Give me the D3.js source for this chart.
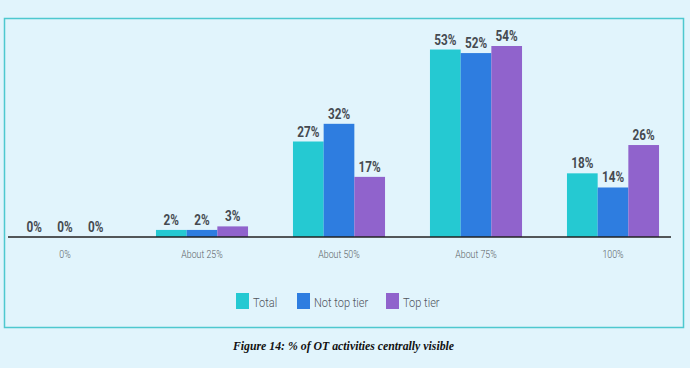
<!DOCTYPE html>
<html>
<head>
<meta charset="utf-8">
<script src="https://cdn.jsdelivr.net/npm/d3@7"></script>
<style>
  html, body { margin: 0; padding: 0; background: #e1f4fc; }
  svg { display: block; }
</style>
</head>
<body>
<div class="playground"></div>
<script>
// chart data
var categories = ["0%", "About 25%", "About 50%", "About 75%", "100%"];
var seriesNames = ["Total", "Not top tier", "Top tier"];
var total      = [0, 2, 27, 53, 18];
var notTopTier = [0, 2, 32, 52, 14];
var topTier    = [0, 3, 17, 54, 26];
var colors     = ["#25c9d2", "#2e7de0", "#9063cc"];

var width  = 690,
    height = 368;

var seriesValues = [total, notTopTier, topTier];

var svg = d3.select(".playground")
            .append("svg")
            .attr("width", width)
            .attr("height", height);

svg.append("rect")
   .attr("width", width)
   .attr("height", height)
   .attr("fill", "#e1f4fc");

// frame round the chart
svg.append("rect")
   .attr("x", 4.5)
   .attr("y", 18.5)
   .attr("width", 679)
   .attr("height", 309)
   .attr("fill", "none")
   .attr("stroke", "#4ec8cf")
   .attr("stroke-width", 1.5);

var baseline = 237;

var x0 = d3.scaleBand()
           .domain(categories)
           .range([-3.5, 681.5])
           .paddingInner(0.328)
           .paddingOuter(0.164);

var x1 = d3.scaleBand()
           .domain(seriesNames)
           .range([0, x0.bandwidth()]);

var y = d3.scaleLinear()
          .domain([0, 54])
          .range([baseline, 46]);

var rows = [];
categories.forEach(function (c, i) {
  seriesNames.forEach(function (s, j) {
    rows.push({ cat: c, series: s, idx: j, value: seriesValues[j][i] });
  });
});

var groups = svg.append("g").attr("class", "bars");

groups.selectAll("rect")
      .data(rows)
      .enter()
      .append("rect")
      .attr("x", function (d) { return x0(d.cat) + x1(d.series); })
      .attr("y", function (d) { return y(d.value); })
      .attr("width", x1.bandwidth())
      .attr("height", function (d) { return baseline - y(d.value); })
      .attr("fill", function (d) { return colors[d.idx]; });

// value labels, squeezed a bit to look like the condensed face
groups.selectAll("text")
      .data(rows)
      .enter()
      .append("text")
      .attr("transform", function (d) {
        var cx = x0(d.cat) + x1(d.series) + x1.bandwidth() / 2;
        return "translate(" + cx + "," + (y(d.value) - 5) + ") scale(0.84,1)";
      })
      .attr("text-anchor", "middle")
      .attr("font-family", "Roboto, sans-serif")
      .attr("font-weight", 700)
      .attr("font-size", 14)
      .attr("fill", "#454a50")
      .text(function (d) { return d.value + "%"; });

// x axis
var xAxis = svg.append("g")
               .attr("transform", "translate(0," + baseline + ")")
               .call(d3.axisBottom(x0).tickSize(0).tickPadding(14));

xAxis.select(".domain").remove();
xAxis.append("line")
     .attr("x1", 8)
     .attr("x2", 671)
     .attr("stroke", "#222")
     .attr("stroke-width", 1.3);

xAxis.selectAll(".tick text")
     .attr("transform", "scale(0.88,1)")
     .attr("font-family", "Roboto, sans-serif")
     .attr("font-weight", 300)
     .attr("font-size", 10)
     .attr("fill", "#5a5f66");

xAxis.selectAll(".tick text")
     .attr("x", 0);

// legend
var legendX = [236, 297, 386];
var legend = svg.append("g").attr("class", "legend");

var item = legend.selectAll("g")
                 .data(seriesNames)
                 .enter()
                 .append("g")
                 .attr("transform", function (d, i) { return "translate(" + legendX[i] + ",293)"; });

item.append("rect")
    .attr("width", 13)
    .attr("height", 16)
    .attr("fill", function (d, i) { return colors[i]; });

item.append("text")
    .attr("transform", "translate(17,14) scale(0.82,1)")
    .attr("font-family", "Roboto, sans-serif")
    .attr("font-weight", 300)
    .attr("font-size", 13.5)
    .attr("fill", "#50555c")
    .text(function (d) { return d; });

// caption
svg.append("text")
   .attr("x", 343.5)
   .attr("y", 350)
   .attr("text-anchor", "middle")
   .attr("font-family", "'Liberation Serif', 'Times New Roman', serif")
   .attr("font-weight", "bold")
   .attr("font-style", "italic")
   .attr("font-size", 11.8)
   .attr("fill", "#111")
   .text("Figure 14: % of OT activities centrally visible");
</script>
</body>
</html>
